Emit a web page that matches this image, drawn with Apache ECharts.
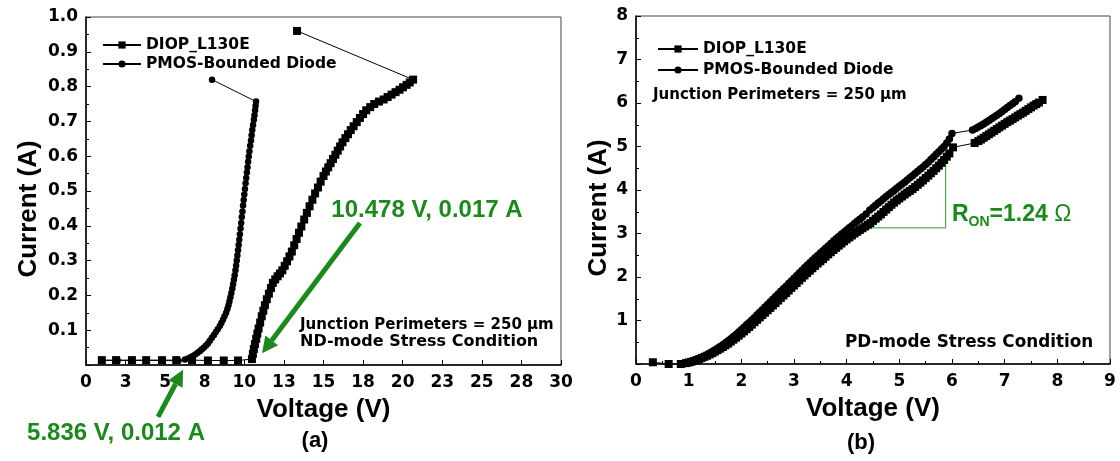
<!DOCTYPE html>
<html><head><meta charset="utf-8">
<script src="https://cdn.jsdelivr.net/npm/echarts@6/dist/echarts.min.js"></script>
<style>html,body{margin:0;padding:0;background:#fff}#c{width:1120px;height:461px}</style>
</head><body><div id="c"></div>
<script>
// ---------- data ----------
const seriesNames = ['DIOP_L130E', 'PMOS-Bounded Diode'];

// (a) ND-mode, [V, A]
const aDiop = [[1.0,0.014],[1.9,0.014],[2.9,0.014],[3.8,0.014],[4.8,0.014],[5.7,0.014],[6.7,0.014],[7.7,0.013],[8.7,0.013],[9.6,0.013],
  [10.48,0.017],[10.54,0.032],[10.6,0.046],[10.67,0.06],[10.75,0.075],[10.82,0.09],[10.9,0.105],[11.0,0.122],[11.1,0.14],[11.2,0.156],
  [11.3,0.172],[11.42,0.189],[11.55,0.205],[11.68,0.221],[11.8,0.236],[11.95,0.246],[12.1,0.255],[12.25,0.263],[12.4,0.272],[12.55,0.285],
  [12.7,0.298],[12.85,0.312],[13.0,0.326],[13.15,0.344],[13.3,0.362],[13.45,0.38],[13.6,0.398],[13.78,0.418],[13.95,0.437],[14.12,0.456],
  [14.3,0.475],[14.47,0.493],[14.65,0.51],[14.82,0.527],[15.0,0.543],[15.15,0.556],[15.3,0.568],[15.45,0.58],[15.6,0.592],[15.75,0.604],
  [15.9,0.616],[16.05,0.628],[16.2,0.64],[16.38,0.652],[16.55,0.663],[16.72,0.675],[16.9,0.686],[17.1,0.698],[17.3,0.71],[17.5,0.721],
  [17.7,0.732],[17.95,0.741],[18.2,0.75],[18.5,0.757],[18.8,0.763],[19.05,0.77],[19.3,0.777],[19.55,0.784],[19.8,0.791],[20.02,0.798],
  [20.25,0.805],[20.45,0.812],[20.66,0.82],[13.33,0.96]];
const aPmos = [[1.0,0.013],[2.0,0.013],[2.9,0.013],[3.8,0.013],[4.8,0.013],[5.84,0.012],
  [6.25,0.016],[6.45,0.019],[6.6,0.022],[6.75,0.026],[6.9,0.03],[7.05,0.035],[7.2,0.04],[7.32,0.045],[7.45,0.05],[7.58,0.056],
  [7.7,0.062],[7.82,0.07],[7.95,0.078],[8.08,0.086],[8.2,0.095],[8.32,0.103],[8.45,0.112],[8.55,0.121],[8.65,0.13],[8.75,0.14],
  [8.85,0.15],[8.93,0.161],[9.0,0.172],[9.06,0.183],[9.12,0.195],[9.18,0.207],[9.24,0.22],[9.29,0.232],[9.34,0.245],[9.39,0.258],
  [9.44,0.272],[9.48,0.286],[9.52,0.3],[9.56,0.315],[9.6,0.33],[9.64,0.345],[9.68,0.36],[9.72,0.376],[9.76,0.392],[9.8,0.408],
  [9.84,0.425],[9.88,0.441],[9.92,0.458],[9.96,0.474],[10.0,0.49],[10.04,0.506],[10.08,0.522],[10.12,0.537],[10.16,0.553],[10.2,0.568],
  [10.24,0.584],[10.28,0.599],[10.32,0.614],[10.37,0.63],[10.42,0.645],[10.46,0.66],[10.5,0.675],[10.55,0.69],[10.6,0.705],[10.64,0.718],
  [10.68,0.732],[10.71,0.745],[10.74,0.757],[7.96,0.82]];

// (b) PD-mode, [V, A]
const bDiop = [[0.32,0.04],[0.62,0.0],[0.85,0.0],[0.95,0.02],[1.0,0.035],[1.05,0.05],[1.1,0.07],[1.15,0.09],[1.2,0.115],[1.25,0.14],
  [1.3,0.165],[1.35,0.19],[1.4,0.22],[1.45,0.25],[1.5,0.285],[1.55,0.32],[1.6,0.355],[1.65,0.39],[1.7,0.43],[1.75,0.47],
  [1.8,0.515],[1.85,0.56],[1.9,0.605],[1.95,0.65],[2.0,0.7],[2.05,0.75],[2.1,0.8],[2.15,0.85],[2.2,0.905],[2.25,0.96],
  [2.3,1.015],[2.35,1.07],[2.4,1.125],[2.45,1.18],[2.5,1.235],[2.55,1.29],[2.6,1.345],[2.65,1.4],[2.7,1.46],[2.75,1.52],
  [2.8,1.575],[2.85,1.63],[2.9,1.69],[2.95,1.75],[3.0,1.805],[3.05,1.86],[3.1,1.92],[3.15,1.98],[3.2,2.035],[3.25,2.09],
  [3.3,2.145],[3.35,2.2],[3.4,2.255],[3.45,2.31],[3.5,2.36],[3.55,2.41],[3.6,2.465],[3.65,2.52],[3.7,2.57],[3.75,2.62],
  [3.8,2.67],[3.85,2.72],[3.9,2.77],[3.95,2.82],[4.0,2.865],[4.05,2.91],[4.1,2.955],[4.15,3.0],[4.2,3.04],[4.25,3.08],
  [4.3,3.12],[4.35,3.16],[4.4,3.2],[4.45,3.24],[4.5,3.29],[4.55,3.34],[4.6,3.39],[4.65,3.44],[4.7,3.495],[4.75,3.55],
  [4.8,3.605],[4.85,3.66],[4.9,3.71],[4.95,3.76],[5.0,3.805],[5.05,3.85],[5.1,3.895],[5.15,3.94],[5.2,3.98],[5.25,4.02],
  [5.3,4.07],[5.35,4.12],[5.4,4.17],[5.45,4.22],[5.5,4.275],[5.55,4.33],[5.6,4.385],[5.65,4.44],[5.7,4.5],[5.75,4.56],
  [5.8,4.625],[5.85,4.69],[5.9,4.765],[5.95,4.84],[6.02,4.98],[6.43,5.08],[6.5,5.125],[6.55,5.16],[6.6,5.2],[6.65,5.24],
  [6.7,5.28],[6.75,5.32],[6.8,5.36],[6.85,5.4],[6.9,5.44],[6.95,5.48],[7.0,5.52],[7.05,5.56],[7.1,5.595],[7.15,5.63],
  [7.2,5.67],[7.25,5.71],[7.3,5.745],[7.35,5.78],[7.4,5.82],[7.45,5.86],[7.5,5.9],[7.55,5.94],[7.6,5.975],[7.65,6.01],[7.72,6.07]];
const bPmos = [[0.9,0.0],[0.95,0.015],[1.0,0.03],[1.05,0.05],[1.1,0.07],[1.15,0.095],[1.2,0.12],[1.25,0.15],[1.3,0.18],[1.35,0.215],
  [1.4,0.25],[1.45,0.285],[1.5,0.32],[1.55,0.36],[1.6,0.4],[1.65,0.445],[1.7,0.49],[1.75,0.535],[1.8,0.58],[1.85,0.63],
  [1.9,0.68],[1.95,0.735],[2.0,0.79],[2.05,0.845],[2.1,0.9],[2.15,0.955],[2.2,1.01],[2.25,1.07],[2.3,1.13],[2.35,1.19],
  [2.4,1.25],[2.45,1.31],[2.5,1.37],[2.55,1.43],[2.6,1.49],[2.65,1.55],[2.7,1.61],[2.75,1.67],[2.8,1.73],[2.85,1.79],
  [2.9,1.85],[2.95,1.91],[3.0,1.97],[3.05,2.03],[3.1,2.09],[3.15,2.15],[3.2,2.21],[3.25,2.27],[3.3,2.33],[3.35,2.385],
  [3.4,2.44],[3.45,2.495],[3.5,2.55],[3.55,2.605],[3.6,2.66],[3.65,2.715],[3.7,2.77],[3.75,2.825],[3.8,2.88],[3.85,2.93],
  [3.9,2.98],[3.95,3.03],[4.0,3.08],[4.05,3.13],[4.1,3.18],[4.15,3.23],[4.2,3.28],[4.25,3.33],[4.3,3.38],[4.37,3.45],
  [4.44,3.54],[4.5,3.6],[4.55,3.65],[4.6,3.7],[4.65,3.75],[4.7,3.8],[4.75,3.85],[4.8,3.895],[4.85,3.94],[4.9,3.99],
  [4.95,4.04],[5.0,4.085],[5.05,4.13],[5.1,4.18],[5.15,4.23],[5.2,4.28],[5.25,4.33],[5.3,4.38],[5.35,4.43],[5.4,4.48],
  [5.45,4.53],[5.5,4.585],[5.55,4.64],[5.6,4.7],[5.65,4.76],[5.7,4.82],[5.75,4.88],[5.8,4.94],[5.85,5.0],[5.9,5.08],
  [5.95,5.17],[6.0,5.3],[6.39,5.38],[6.45,5.415],[6.5,5.45],[6.55,5.485],[6.6,5.52],[6.65,5.56],[6.7,5.6],[6.75,5.64],
  [6.8,5.68],[6.85,5.72],[6.9,5.76],[6.95,5.805],[7.0,5.85],[7.05,5.895],[7.1,5.94],[7.15,5.985],[7.2,6.03],[7.27,6.11]];

// tick labels
const aXLabels = ['0','3','5','8','10','13','15','18','20','23','25','28','30'];
const aYLabels = ['','0.1','0.2','0.3','0.4','0.5','0.6','0.7','0.8','0.9','1.0'];
const bXLabels = ['0','1','2','3','4','5','6','7','8','9'];
const bYLabels = ['','1','2','3','4','5','6','7','8'];

// annotations (data coordinates)
const aArrows = [ {from:[17.3,0.408], to:[11.12,0.034]}, {from:[4.55,-0.149], to:[6.13,-0.014]} ];
const bRonTriangle = [[4.44,3.13],[5.88,3.13],[5.88,4.69]];

// ---------- chart ----------
const GREEN = '#1a8a1a';
const tickFont = {color:'#000', fontFamily:'DejaVu Sans', fontWeight:'bold', fontSize:17};
const nameFont = {color:'#000', fontFamily:'Liberation Sans', fontWeight:'bold', fontSize:26};

function xAx(gi, max, interval, labels, minor){
  return {gridIndex:gi, type:'value', min:0, max, interval,
    axisLine:{onZero:false, lineStyle:{color:'#000', width:1.5}},
    axisTick:{inside:true, length:5, lineStyle:{color:'#000', width:1}},
    minorTick:{show:minor, splitNumber:2, length:3, lineStyle:{color:'#000'}},
    axisLabel:Object.assign({margin:9, formatter:v=>labels[Math.round(v/interval)]}, tickFont),
    splitLine:{show:false}, minorSplitLine:{show:false},
    name:'Voltage (V)', nameLocation:'middle', nameGap:32, nameTextStyle:nameFont};
}
function yAx(gi, max, interval, labels, gap){
  return {gridIndex:gi, type:'value', min:0, max, interval,
    axisLine:{onZero:false, lineStyle:{color:'#000', width:1.5}},
    axisTick:{inside:true, length:5, lineStyle:{color:'#000', width:1}},
    minorTick:{show:true, splitNumber:2, length:3, lineStyle:{color:'#000'}},
    axisLabel:Object.assign({margin:8, formatter:v=>labels[Math.round(v/interval)]}, tickFont),
    splitLine:{show:false}, minorSplitLine:{show:false},
    name:'Current (A)', nameLocation:'middle', nameGap:gap,
    nameTextStyle:Object.assign({padding:[0,36,0,0]}, nameFont)};
}
function ser(name, data, gi, symbol, size){
  return {type:'line', name, data, xAxisIndex:gi, yAxisIndex:gi, symbol, symbolSize:size,
    showSymbol:true, showAllSymbol:true, lineStyle:{color:'#000', width:1}, itemStyle:{color:'#000'},
    emphasis:{disabled:true}, z:3};
}
const legendBase = {data:seriesNames, orient:'vertical', itemHeight:9, selectedMode:false,
  textStyle:{fontFamily:'DejaVu Sans', fontWeight:'bold', fontSize:15.5, color:'#000'}};

const option = {
  animation:false,
  backgroundColor:'#fff',
  grid:[
    {left:86, top:17, width:475, height:348, show:true, borderColor:'#444', borderWidth:1},
    {left:636, top:16, width:474, height:348, show:true, borderColor:'#444', borderWidth:1}
  ],
  xAxis:[ xAx(0, 30, 2.5, aXLabels, false), xAx(1, 9, 1, bXLabels, true) ],
  yAxis:[ yAx(0, 1.0, 0.1, aYLabels, 44), yAx(1, 8, 1, bYLabels, 22) ],
  legend:[
    Object.assign({left:97, top:32, itemWidth:38, itemGap:3}, legendBase),
    Object.assign({left:652, top:36, itemWidth:40, itemGap:5}, legendBase)
  ],
  series:[
    ser(seriesNames[0], aDiop, 0, 'rect', 8),
    ser(seriesNames[1], aPmos, 0, 'circle', 6.5),
    ser(seriesNames[0], bDiop, 1, 'rect', 8),
    ser(seriesNames[1], bPmos, 1, 'circle', 7.5),
    {type:'line', name:'R_ON', data:bRonTriangle, xAxisIndex:1, yAxisIndex:1, symbol:'none',
     lineStyle:{color:'#2a9a2a', width:1}, z:2, emphasis:{disabled:true}}
  ]
};
const chart = echarts.init(document.getElementById('c'));
chart.setOption(option);

function txt(x, y, text, font, fill, align){
  return {type:'text', x, y, z:10, style:Object.assign({text, fill:fill||'#000', align:align||'left', verticalAlign:'middle'}, font)};
}
const annFont = {fontFamily:'DejaVu Sans', fontWeight:'bold', fontSize:16};
const junFont = {fontFamily:'DejaVu Sans', fontWeight:'bold', fontSize:15};
const grnFont = {fontFamily:'Liberation Sans', fontWeight:'bold', fontSize:24};
const graphics = [
  txt(427, 210, '10.478 V, 0.017 A', grnFont, GREEN, 'center'),
  txt(116, 433, '5.836 V, 0.012 A', grnFont, GREEN, 'center'),
  txt(300, 325, 'Junction Perimeters = 250 µm', junFont),
  txt(300, 342, 'ND-mode Stress Condition', annFont),
  txt(653, 95, 'Junction Perimeters = 250 µm', junFont),
  txt(845, 343, 'PD-mode Stress Condition', {fontFamily:'DejaVu Sans', fontWeight:'bold', fontSize:16.8}),
  txt(315, 441, '(a)', {fontFamily:'Liberation Sans', fontWeight:'bold', fontSize:22}, '#000', 'center'),
  txt(861, 443, '(b)', {fontFamily:'Liberation Sans', fontWeight:'bold', fontSize:22}, '#000', 'center'),
  {type:'text', x:952, y:215, z:10, style:{
    text:'{r|R}{s|ON}{r|=1.24 }{o|Ω}', align:'left', verticalAlign:'middle',
    rich:{
      r:{fontFamily:'Liberation Sans', fontWeight:'bold', fontSize:23, fill:GREEN, lineHeight:28, verticalAlign:'middle'},
      s:{fontFamily:'Liberation Sans', fontWeight:'bold', fontSize:14, fill:GREEN, lineHeight:14, verticalAlign:'bottom'},
      o:{fontFamily:'Liberation Sans', fontWeight:'normal', fontSize:23, fill:GREEN, lineHeight:28, verticalAlign:'middle'}
    }}}
];
aArrows.forEach(a => {
  const p0 = chart.convertToPixel({gridIndex:0}, a.from);
  const p1 = chart.convertToPixel({gridIndex:0}, a.to);
  const dx = p1[0]-p0[0], dy = p1[1]-p0[1], L = Math.hypot(dx, dy);
  const ux = dx/L, uy = dy/L, nx = -uy, ny = ux, HL = 16, HW = 8;
  const bx = p1[0]-ux*HL, by = p1[1]-uy*HL;
  graphics.push({type:'line', z:9, shape:{x1:p0[0], y1:p0[1], x2:bx, y2:by}, style:{stroke:GREEN, lineWidth:5}});
  graphics.push({type:'polygon', z:9, shape:{points:[[p1[0],p1[1]],[bx+nx*HW,by+ny*HW],[bx-nx*HW,by-ny*HW]]}, style:{fill:GREEN}});
});
chart.setOption({graphic:graphics});
</script></body></html>
